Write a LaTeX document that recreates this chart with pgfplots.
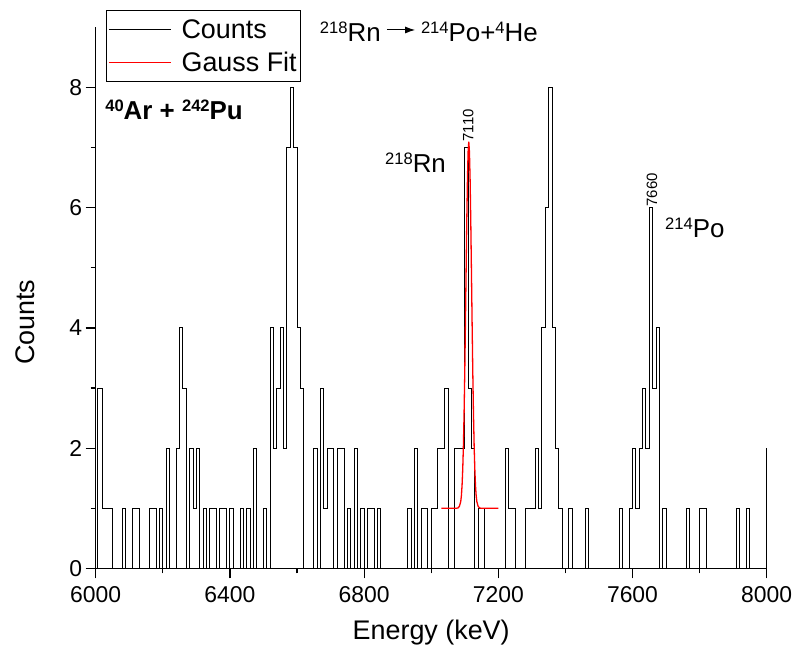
\documentclass[border=0pt]{standalone}
\usepackage{fontspec}
\setmainfont{Liberation Sans}
\usepackage{pgfplots}
\pgfplotsset{compat=1.18}
\usetikzlibrary{arrows.meta}
\newcommand{\su}[1]{\raisebox{0.62ex}{\scalebox{0.64}{#1}}}
\begin{document}
\begin{tikzpicture}
\path[use as bounding box] (0,0) rectangle (796bp,657bp);
\begin{axis}[
  at={(95.7bp,88.7bp)}, anchor=south west,
  scale only axis, width=671bp, height=540.9bp,
  xmin=6000, xmax=8000, ymin=0, ymax=9,
  axis x line=bottom, axis y line=left,
  axis line style={-, line width=1.4bp},
  xtick={6000,6400,...,8000}, minor xtick={6200,6600,...,7800},
  ytick={0,2,...,8}, minor ytick={1,3,5,7},
  tick align=outside,
  major tick length=10bp, minor tick length=5bp,
  every tick/.style={line width=1.2bp, black},
  /pgf/number format/1000 sep={},
  /pgf/number format/assume math mode=true,
  ticklabel style={font=\fontsize{23}{26}\selectfont},
  xticklabel style={yshift=-5bp},
  xlabel={Energy (keV)}, ylabel={Counts},
  label style={font=\fontsize{27}{30}\selectfont},
  xlabel style={at={(axis description cs:0.5,-0.1196)}, anchor=center},
  ylabel style={at={(axis description cs:-0.105,0.455)}, anchor=center},
  legend style={at={(axis description cs:0.0154,1.032)}, anchor=north west, draw=black, line width=0.8bp, font=\fontsize{27}{30}\selectfont, inner xsep=2bp, inner ysep=7bp, row sep=8bp},
  legend cell align=left,
  legend image code/.code={\draw[#1, line width=1bp] (0bp,0bp) -- (62bp,0bp); \path (70bp,0bp);},
  clip=false,
]
\addplot[const plot, black, line width=0.9bp] coordinates {
(6005,0) (6005,3) (6020,1) (6050,0) (6080,1) (6090,0) (6110,1) (6130,0) (6160,1) (6180,0)
(6190,1) (6200,0) (6210,2) (6220,0) (6240,2) (6250,4) (6260,3) (6270,0) (6280,2) (6290,1)
(6300,2) (6310,0) (6320,1) (6330,0) (6340,1) (6360,0) (6370,1) (6390,0) (6400,1) (6410,0)
(6430,1) (6440,0) (6450,1) (6460,0) (6470,2) (6480,0) (6500,1) (6510,0) (6520,4) (6530,2)
(6540,3) (6550,4) (6560,2) (6570,7) (6580,8) (6590,7) (6600,4) (6610,3) (6620,0) (6650,2)
(6660,0) (6670,3) (6680,1) (6690,2) (6710,0) (6720,2) (6740,0) (6750,1) (6760,0) (6770,2)
(6780,0) (6790,1) (6800,0) (6810,1) (6830,0) (6840,1) (6850,0) (6930,1) (6940,0) (6950,2)
(6960,0) (6970,1) (6990,0) (7000,1) (7020,2) (7040,3) (7050,0) (7070,2) (7100,7) (7110,3)
(7120,2) (7130,0) (7140,1) (7160,0) (7220,2) (7230,1) (7250,0) (7280,1) (7310,2) (7320,1)
(7330,4) (7340,6) (7350,8) (7360,4) (7370,2) (7380,1) (7390,0) (7410,1) (7420,0) (7460,1)
(7470,0) (7560,1) (7570,0) (7590,1) (7600,2) (7610,1) (7620,2) (7630,3) (7640,2) (7650,6)
(7660,3) (7670,4) (7680,0) (7690,1) (7700,0) (7760,1) (7770,0) (7800,1) (7820,0) (7910,1)
(7920,0) (7940,1) (7950,0) (8000,0) (8000,2)
};
\addlegendentry{Counts}
\addplot[red, line width=1.3bp] coordinates {
(7030,1) (7076,1) (7080,1.005) (7084,1.03) (7088,1.11) (7090,1.21) (7092,1.38) (7094,1.65)
(7096,2.04) (7098,2.57) (7100,3.25) (7102,4.05) (7104,4.92) (7106,5.76) (7108,6.46) (7110,6.93)
(7112,7.1) (7114,6.93) (7116,6.46) (7118,5.76) (7120,4.92) (7122,4.05) (7124,3.25) (7126,2.57)
(7128,2.04) (7130,1.65) (7132,1.38) (7134,1.21) (7136,1.11) (7140,1.03) (7144,1.005) (7148,1)
(7200,1)
};
\addlegendentry{Gauss Fit}
\node[font=\fontsize{26}{30}\selectfont\bfseries, anchor=base west, inner sep=0pt] at (axis cs:6028,7.46) {\su{40}Ar + \su{242}Pu};
\node[font=\fontsize{26}{30}\selectfont, anchor=base west, inner sep=0pt] at (axis cs:6862,6.58) {\su{218}Rn};
\node[font=\fontsize{26}{30}\selectfont, anchor=base west, inner sep=0pt] at (axis cs:7697,5.50) {\su{214}Po};
\node[font=\fontsize{15}{17}\selectfont, rotate=90, anchor=west, inner sep=0.5bp] at (axis cs:7110,7.09) {7110};
\node[font=\fontsize{15}{17}\selectfont, rotate=90, anchor=west, inner sep=0.5bp] at (axis cs:7658,6.01) {7660};
\node[font=\fontsize{26}{30}\selectfont, anchor=base east, inner sep=0pt] at (axis cs:6850,8.76) {\su{218}Rn};
\draw[-{Latex[length=10bp,width=7bp]}, line width=1bp] (axis cs:6868,8.957) -- (axis cs:6952,8.957);
\node[font=\fontsize{26}{30}\selectfont, anchor=base west, inner sep=0pt] at (axis cs:6969,8.76) {\su{214}Po+\su{4}He};
\end{axis}
\end{tikzpicture}
\end{document}
